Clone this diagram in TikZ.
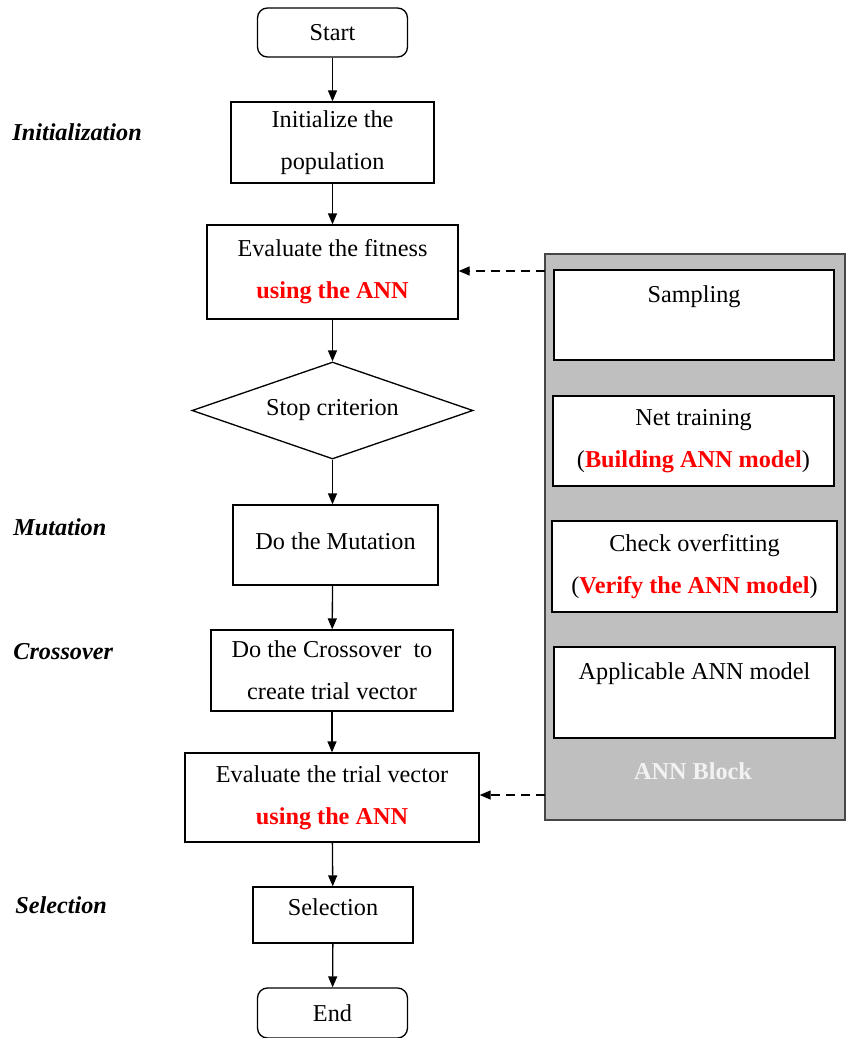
\documentclass[tikz,border=0pt]{standalone}
\usepackage{fontspec}
\setmainfont{Liberation Serif}
\usepackage{tikz}
\usetikzlibrary{positioning,arrows.meta,shapes.geometric}
\definecolor{blockgray}{RGB}{191,191,191}
\tikzstyle{terminal}=[draw=black, line width=0.75pt, rounded corners=0.2cm,
        minimum width=3cm, minimum height=0.98cm, font=\fontsize{13.8}{24}\selectfont]
\tikzstyle{process}=[draw=black, fill=white, line width=0.75pt, align=center,
        inner sep=0pt, font=\fontsize{13.8}{24}\selectfont]
\tikzstyle{decision}=[process, shape=diamond, shape aspect=3]
\tikzstyle{ann block}=[draw={rgb,255: red,70; green,70; blue,70}, fill=blockgray,
        line width=0.75pt]
\tikzstyle{phase}=[anchor=west, inner sep=0pt,
        font=\fontsize{13.8}{17}\selectfont\bfseries\itshape]
\tikzstyle{flow edge}=[-{Triangle[length=2.2mm, width=1.8mm]}, line width=0.75pt]
\tikzstyle{ann edge}=[flow edge, dash pattern=on 5pt off 3.5pt]
\newcommand{\annred}[1]{\textcolor{red}{\textbf{#1}}}

\begin{document}
\begin{tikzpicture}
            \useasboundingbox (0, 0) rectangle (16.92, -20.76);

            % main flow
            \node [style=terminal] (0) at (6.65, -0.65) {Start};
            \node [style=process, minimum width=4.06cm, minimum height=1.62cm] (1) at (6.65, -2.85) {Initialize the\\population};
            \node [style=process, minimum width=5.02cm, minimum height=1.88cm] (2) at (6.65, -5.44) {Evaluate the fitness\\\annred{using the ANN}};
            \node [style=decision, minimum width=5.62cm, minimum height=1.94cm] (3) at (6.65, -8.21) {Stop criterion};
            \node [style=process, minimum width=4.1cm, minimum height=1.6cm, text depth=0.16cm] (4) at (6.71, -10.9) {Do the Mutation};
            \node [style=process, minimum width=4.84cm, minimum height=1.62cm] (5) at (6.64, -13.41) {Do the Crossover \ to\\create trial vector};
            \node [style=process, minimum width=5.88cm, minimum height=1.78cm] (6) at (6.64, -15.95) {Evaluate the trial vector\\\annred{using the ANN}};
            \node [style=process, minimum width=3.2cm, minimum height=1.12cm, text depth=0.32cm] (7) at (6.66, -18.3) {Selection};
            \node [style=terminal, minimum height=1cm] (8) at (6.65, -20.26) {End};

            % phase labels
            \node [style=phase] (9) at (0.24, -2.64) {Initialization};
            \node [style=phase] (10) at (0.26, -10.54) {Mutation};
            \node [style=phase] (11) at (0.26, -13.04) {Crossover};
            \node [style=phase] (12) at (0.3, -18.1) {Selection};

            % ANN block
            \node [style=ann block, minimum width=6cm, minimum height=11.32cm] (13) at (13.9, -10.74) {};
            \node [style=process, minimum width=5.6cm, minimum height=1.8cm] (14) at (13.88, -6.3) {Sampling\\~};
            \node [style=process, minimum width=5.62cm, minimum height=1.8cm] (15) at (13.87, -8.82) {Net training\\(\annred{Building ANN model})};
            \node [style=process, minimum width=5.7cm, minimum height=1.82cm] (16) at (13.89, -11.33) {Check overfitting\\(\annred{Verify the ANN model})};
            \node [style=process, minimum width=5.62cm, minimum height=1.82cm] (17) at (13.89, -13.85) {Applicable ANN model\\~};
            \node [text={rgb,255: red,242; green,242; blue,242}, font=\fontsize{13.8}{17}\selectfont\bfseries] (18) at (13.86, -15.42) {ANN Block};

            \coordinate (19) at (10.9, -5.42);
            \coordinate (20) at (10.9, -15.9);

            \draw [style=flow edge] (0) to (1);
            \draw [style=flow edge] (1) to (2);
            \draw [style=flow edge] (2) to (3);
            \draw [style=flow edge] (3) to (3 |- 4.north);
            \draw [style=flow edge] (4.south -| 3) to (5);
            \draw [style=flow edge] (5) to (6);
            \draw [style=flow edge] (6) to (7);
            \draw [style=flow edge] (7) to (8);

            \draw [style=ann edge] (19) to (2.east |- 19);
            \draw [style=ann edge] (20) to (6.east |- 20);
\end{tikzpicture}
\end{document}
